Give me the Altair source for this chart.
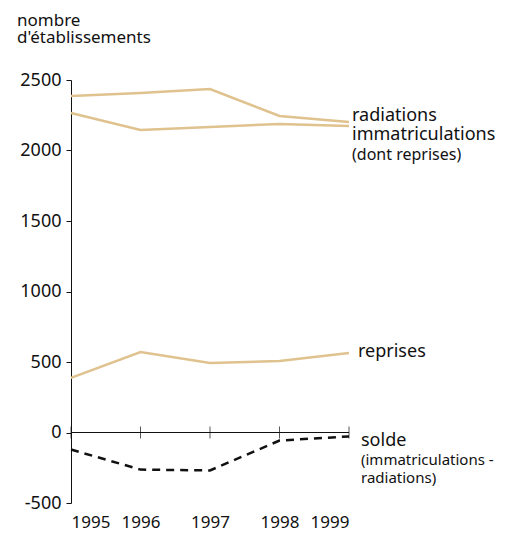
import altair as alt
import pandas as pd

years = [1995, 1996, 1997, 1998, 1999]
radiations = [2387, 2408, 2436, 2245, 2202]
immatriculations = [2266, 2145, 2167, 2188, 2174]
reprises = [387, 571, 493, 507, 564]
solde = [-121, -263, -269, -57, -28]
title_lines = ["nombre", "d'établissements"]

FONT = "Noto Sans"
TAN = "#dfc28e"
INK = "#111"

rows = []
for name, vals in [("radiations", radiations), ("immatriculations", immatriculations), ("reprises", reprises)]:
    for y, v in zip(years, vals):
        rows.append({"year": y, "value": v, "series": name})
df = pd.DataFrame(rows)
df_solde = pd.DataFrame({"year": years, "value": solde})

xs = alt.Scale(domain=[1995, 1999], nice=False, zero=False)
ys = alt.Scale(domain=[-500, 2500], nice=False, zero=False)

base_x = alt.X("year:Q", scale=xs, axis=alt.Axis(
    values=years, labelExpr="'' + datum.value", domain=False, ticks=False, grid=False, title=None,
    labelFont=FONT, labelFontSize=17, labelColor=INK, labelPadding=11))
base_y = alt.Y("value:Q", scale=ys, axis=alt.Axis(
    values=[-500, 0, 500, 1000, 1500, 2000, 2500], labelExpr="'' + datum.value",
    grid=False, title=None,
    domainColor=INK, tickColor=INK, tickSize=5, labelPadding=5,
    labelFont=FONT, labelFontSize=18, labelColor=INK))

lines = alt.Chart(df).mark_line(color=TAN, strokeWidth=2.5).encode(
    x=base_x, y=base_y, detail="series:N")

solde_line = alt.Chart(df_solde).mark_line(color=INK, strokeWidth=2.5, strokeDash=[8, 6]).encode(
    x="year:Q", y="value:Q")

zero_df = pd.DataFrame({"x1": [1995], "x2": [1999], "y": [0]})
zero_rule = alt.Chart(zero_df).mark_rule(color=INK, strokeWidth=1).encode(
    x="x1:Q", x2="x2:Q", y="y:Q")

tick_df = pd.DataFrame({"year": years, "y": [0] * 5})
ticks = alt.Chart(tick_df).mark_tick(color=INK, orient="vertical", size=12, thickness=1).encode(
    x="year:Q", y="y:Q")

last = years[-1]
lab_rows = [
    {"year": last, "value": radiations[-1], "text": "radiations", "dx": 3, "dy": -6, "size": 18},
    {"year": last, "value": immatriculations[-1], "text": "immatriculations", "dx": 3, "dy": 9, "size": 18},
    {"year": last, "value": immatriculations[-1], "text": "(dont reprises)", "dx": 3, "dy": 29, "size": 16},
    {"year": last, "value": reprises[-1], "text": "reprises", "dx": 9, "dy": -1, "size": 18},
    {"year": last, "value": solde[-1], "text": "solde", "dx": 12, "dy": 5, "size": 18},
    {"year": last, "value": solde[-1], "text": "(immatriculations -", "dx": 12, "dy": 24, "size": 15},
    {"year": last, "value": solde[-1], "text": "radiations)", "dx": 12, "dy": 42, "size": 15},
]
labels = []
for r in lab_rows:
    labels.append(alt.Chart(pd.DataFrame([r])).mark_text(
        align="left", baseline="middle", dx=r["dx"], dy=r["dy"], font=FONT,
        fontSize=r["size"], color=INK).encode(x="year:Q", y="value:Q", text="text:N"))

title_df = pd.DataFrame({"t": ["x"]})
titles = []
for i, t in enumerate(title_lines):
    titles.append(alt.Chart(title_df).mark_text(
        align="left", baseline="alphabetic", font=FONT, fontSize=17, color=INK, text=t).encode(
        x=alt.value(-54), y=alt.value(-54 + 17 * i)))

chart = alt.layer(lines, solde_line, zero_rule, ticks, *labels, *titles).properties(
    width=278, height=423,
    autosize=alt.AutoSizeParams(type="none"),
    padding={"left": 63, "top": 72, "right": 148, "bottom": 30},
).configure_view(stroke=None)

chart.save("out.html", embed_options={"renderer": "svg", "actions": False})
